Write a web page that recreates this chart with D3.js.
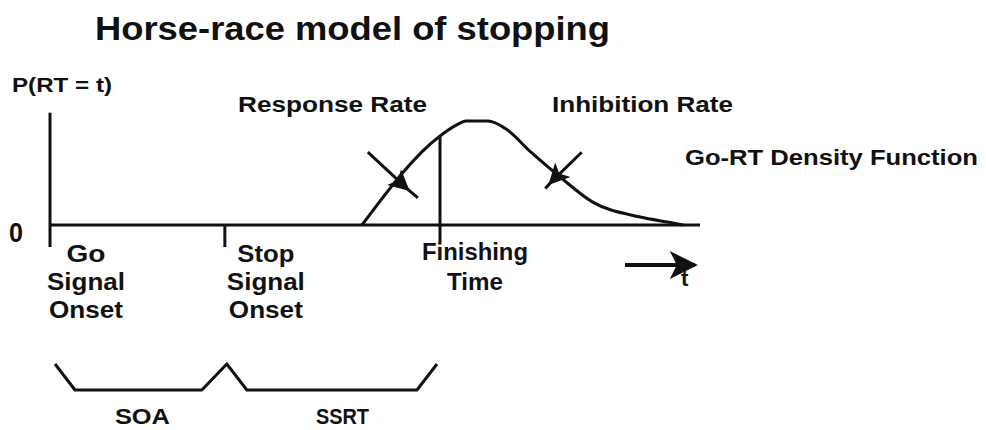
<!DOCTYPE html>
<html>
<head>
<meta charset="utf-8">
<script src="https://cdn.jsdelivr.net/npm/d3@7"></script>
<style>
  body { margin: 0; background: #fff; }
  text { font-family: "Liberation Sans", Arial, sans-serif; font-weight: bold; fill: #111; }
</style>
</head>
<body>
<div id="chart"></div>
<script>
// Go-RT density curve (time units, relative density)
const curveT = [48, 60, 62.5, 64, 67.4, 70, 74, 78.5, 83.5, 90.8, 95.8, 97.4];
const curveD = [0, 0.856, 0.96, 1, 1, 0.93, 0.7, 0.46, 0.22, 0.077, 0.02, 0];

// event times on the axis
const eventNames = ["Go Signal Onset", "Stop Signal Onset", "Finishing Time"];
const eventTimes = [0, 26.9, 60];

// rate arrows: start, tip, tail end as [t, d]
const respArrow = [[48.9, 0.70], [55.1, 0.34], [56.6, 0.26]];
const inhibArrow = [[81.8, 0.70], [76.9, 0.40], [76.2, 0.35]];

// graph constants
const w = 986;
const h = 430;

const svg = d3.select("#chart")
              .append("svg")
              .attr("width", w)
              .attr("height", h);

const xScale = d3.scaleLinear().domain([0, 100]).range([50, 700]);
const yScale = d3.scaleLinear().domain([0, 1]).range([225, 121]);

// arrowhead marker
svg.append("defs")
   .append("marker")
   .attr("id", "head")
   .attr("viewBox", "0 0 10 10")
   .attr("refX", 9)
   .attr("refY", 5)
   .attr("markerWidth", 8)
   .attr("markerHeight", 7)
   .attr("markerUnits", "strokeWidth")
   .attr("orient", "auto")
   .append("path")
   .attr("d", "M0,0 L10,5 L0,10 L2.5,5 Z")
   .attr("fill", "#111");

// text helper
function label(str, x, y, size, len, anchor) {
  const t = svg.append("text").text(str)
     .attr("x", x).attr("y", y)
     .attr("text-anchor", anchor || "start")
     .style("font-size", size + "px");
  if (len) t.attr("textLength", len).attr("lengthAdjust", "spacingAndGlyphs");
  return t;
}

// title
label("Horse-race model of stopping", 95, 40, 33, 515);

// y axis + baseline
svg.append("line")
   .attr("x1", xScale(0)).attr("x2", xScale(0))
   .attr("y1", yScale(1.08)).attr("y2", 247)
   .attr("stroke", "#111").attr("stroke-width", 3);
svg.append("line")
   .attr("x1", xScale(0)).attr("x2", xScale(100))
   .attr("y1", yScale(0)).attr("y2", yScale(0))
   .attr("stroke", "#111").attr("stroke-width", 3);

label("P(RT = t)", 12, 92, 21, 100);
label("0", 9, 242, 27, 14);

// density curve
const pts = curveT.map((t, i) => [t, curveD[i]]);
const line = d3.line()
               .x(d => xScale(d[0]))
               .y(d => yScale(d[1]))
               .curve(d3.curveMonotoneX);
svg.append("path")
   .datum(pts)
   .attr("d", line)
   .attr("fill", "none")
   .attr("stroke", "#111")
   .attr("stroke-width", 3);

// stop signal tick
svg.append("line")
   .attr("x1", xScale(eventTimes[1])).attr("x2", xScale(eventTimes[1]))
   .attr("y1", yScale(0)).attr("y2", 247)
   .attr("stroke", "#111").attr("stroke-width", 3);

// finishing time line (up to the curve)
const finD = d3.interpolateNumber(curveD[0], curveD[1])((eventTimes[2] - curveT[0]) / (curveT[1] - curveT[0]));
svg.append("line")
   .attr("x1", xScale(eventTimes[2])).attr("x2", xScale(eventTimes[2]))
   .attr("y1", yScale(finD)).attr("y2", 242)
   .attr("stroke", "#111").attr("stroke-width", 3);

// rate arrows, head sits where they cross the curve
const arrowLine = d3.line().x(d => xScale(d[0])).y(d => yScale(d[1]));
[respArrow, inhibArrow].forEach(a => {
  svg.append("path")
     .attr("d", arrowLine(a))
     .attr("fill", "none")
     .attr("stroke", "#111").attr("stroke-width", 3)
     .attr("marker-mid", "url(#head)");
});

label("Response Rate", 238, 112, 22, 189);
label("Inhibition Rate", 552, 112, 22, 181);
label("Go-RT Density Function", 685, 165, 22, 293);

// event labels below axis
const labelOffset = [36, 41, 35];
const wordWidths = [[39, 78, 74], [57, 78, 74], [106, 56]];
const rowY = [[262, 290, 318], [262, 290, 318], [260, 290]];
eventNames.forEach((name, i) => {
  const cx = xScale(eventTimes[i]) + labelOffset[i];
  name.split(" ").forEach((wd, j) => label(wd, cx, rowY[i][j], 23, wordWidths[i][j], "middle"));
});

// time arrow
label("t", 681, 286, 22);
svg.append("line")
   .attr("x1", 625).attr("y1", 265)
   .attr("x2", 695).attr("y2", 265)
   .attr("stroke", "#111").attr("stroke-width", 4)
   .attr("marker-end", "url(#head)");

// SOA / SSRT brackets
const bY = 390, bTop = 364;
const b = [
  [xScale(eventTimes[0]) + 5, bTop],
  [xScale(eventTimes[0]) + 25, bY],
  [xScale(eventTimes[1]) - 23, bY],
  [xScale(eventTimes[1]) + 2, bTop],
  [xScale(eventTimes[1]) + 22, bY],
  [xScale(eventTimes[2]) - 23, bY],
  [xScale(eventTimes[2]) - 3, bTop]
];
svg.append("path")
   .attr("d", d3.line()(b))
   .attr("fill", "none")
   .attr("stroke", "#111")
   .attr("stroke-width", 3);

label("SOA", (xScale(eventTimes[0]) + xScale(eventTimes[1])) / 2 + 5, 424, 22, 55, "middle");
label("SSRT", (xScale(eventTimes[1]) + xScale(eventTimes[2])) / 2 + 10, 424, 22, 53, "middle");
</script>
</body>
</html>
